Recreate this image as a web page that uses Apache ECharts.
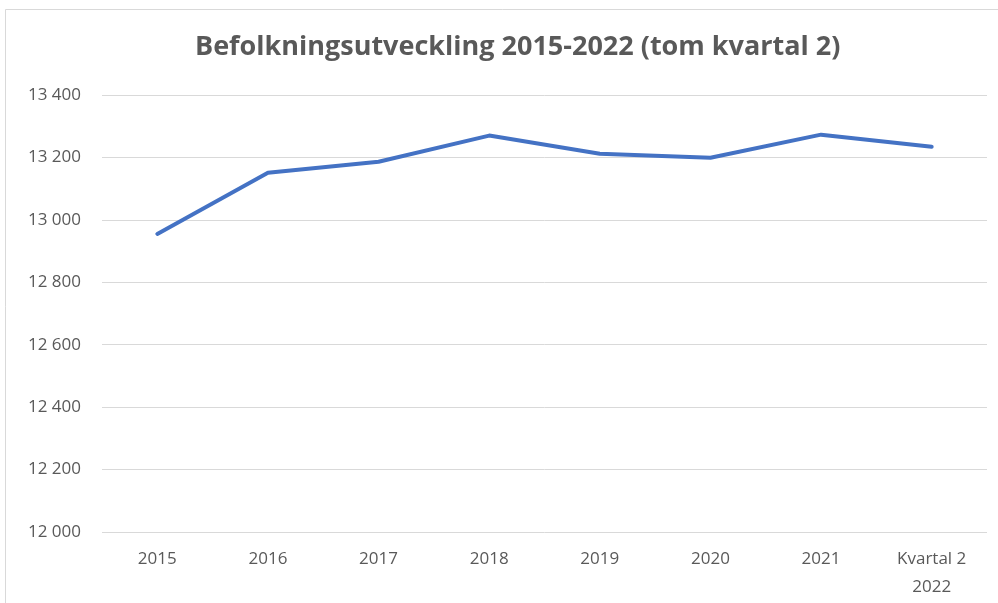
<!DOCTYPE html>
<html>
<head>
<meta charset="utf-8">
<script src="https://cdn.jsdelivr.net/npm/echarts@6/dist/echarts.min.js"></script>
<style>
  html, body { margin: 0; padding: 0; background: #fff; }
  #chartContainer { width: 998px; height: 603px; }
</style>
</head>
<body>
<div id="chartContainer"></div>
<script>
const categories = ['2015', '2016', '2017', '2018', '2019', '2020', '2021', 'Kvartal 2\n2022'];
const population = [12955, 13151, 13186, 13270, 13212, 13199, 13273, 13234];
const yMin = 12000;
const yMax = 13400;
const yStep = 200;

// swedish style thousands: "13 400"
function formatThousands(value) {
    return String(value).replace(/\B(?=(\d{3})+(?!\d))/g, ' ');
}

const myChart = echarts.init(document.getElementById('chartContainer'));

const option = {
    backgroundColor: '#fff',
    animation: false,
    title: {
        text: 'Befolkningsutveckling 2015-2022 (tom kvartal 2)',
        left: 190,
        top: 29,
        textStyle: {
            fontFamily: 'Open Sans',
            fontSize: 27,
            fontWeight: 'bold',
            color: '#595959'
        }
    },
    graphic: [{
        type: 'rect',
        shape: { x: 5.5, y: 9.5, width: 1000, height: 600 },
        style: { fill: 'none', stroke: '#d9d9d9', lineWidth: 1 },
        silent: true
    }],
    grid: { left: 102, right: 11, top: 95, bottom: 71 },
    xAxis: {
        type: 'category',
        data: categories,
        boundaryGap: true,
        axisLine: { show: false },
        axisTick: { show: false },
        axisLabel: {
            color: '#595959',
            fontFamily: 'Open Sans',
            fontSize: 17,
            margin: 13,
            lineHeight: 28
        }
    },
    yAxis: {
        type: 'value',
        min: yMin,
        max: yMax,
        interval: yStep,
        axisLine: { show: false },
        axisTick: { show: false },
        splitLine: { lineStyle: { color: '#d9d9d9', width: 1 } },
        axisLabel: {
            color: '#595959',
            fontFamily: 'Open Sans',
            fontSize: 17,
            margin: 21,
            formatter: formatThousands
        }
    },
    series: [{
        type: 'line',
        data: population,
        symbol: 'none',
        lineStyle: { color: '#4472c4', width: 4, cap: 'round', join: 'round' }
    }]
};

myChart.setOption(option);
</script>
</body>
</html>
